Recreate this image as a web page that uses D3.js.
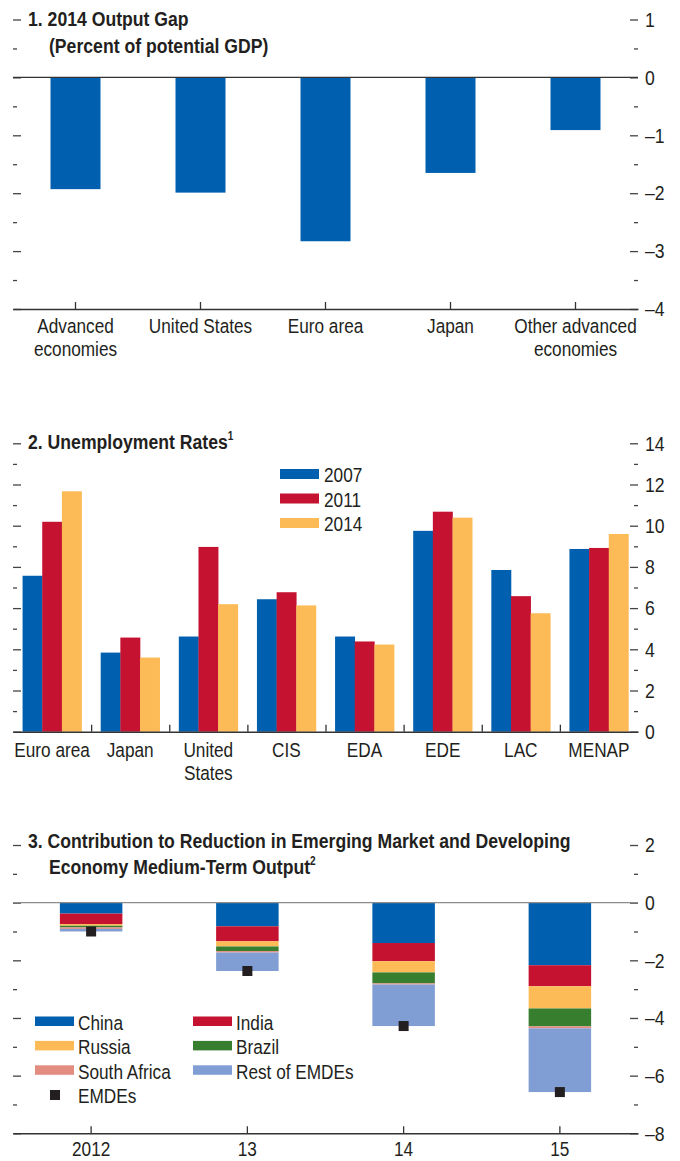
<!DOCTYPE html>
<html>
<head>
<meta charset="utf-8">
<script src="https://cdn.jsdelivr.net/npm/d3@7"></script>
<style>
  body { margin: 0; background: #fff; }
  text { font-family: "Liberation Sans", Arial, sans-serif; fill: #231f20; }
</style>
</head>
<body>
<svg id="chart" width="680" height="1161"></svg>
<script>
// panel 1 data
var gapCategories = ["Advanced\neconomies", "United States", "Euro area", "Japan", "Other advanced\neconomies"];
var gapValues = [-1.93, -1.99, -2.83, -1.65, -0.91];

// panel 2 data
var unempCategories = ["Euro area", "Japan", "United\nStates", "CIS", "EDA", "EDE", "LAC", "MENAP"];
var unempYears = ["2007", "2011", "2014"];
var unemp2007 = [7.57, 3.84, 4.62, 6.43, 4.62, 9.75, 7.85, 8.87];
var unemp2011 = [10.19, 4.57, 8.97, 6.77, 4.38, 10.68, 6.58, 8.92];
var unemp2014 = [11.67, 3.60, 6.19, 6.13, 4.23, 10.39, 5.75, 9.60];

// panel 3 data
var contribYears = ["2012", "13", "14", "15"];
var contribKeys = ["China", "India", "Russia", "Brazil", "South Africa", "Rest of EMDEs"];
var china = [-0.38, -0.82, -1.40, -2.17];
var india = [-0.36, -0.52, -0.63, -0.73];
var russia = [-0.06, -0.18, -0.39, -0.77];
var brazil = [-0.06, -0.16, -0.38, -0.62];
var southAfrica = [-0.05, -0.05, -0.04, -0.07];
var restOfEmdes = [-0.09, -0.64, -1.44, -2.21];
var emdes = [-1.00, -2.37, -4.28, -6.57];

var blue = "#0060af", red = "#c41230", yellow = "#fdbb57", green = "#377e2f",
    salmon = "#e38c80", lightBlue = "#809ed3", ink = "#231f20";

var svg = d3.select("#chart");
var left = 13, right = 638;
var squeeze = 0.84; // the original uses a condensed face

function fmt(d) { return d < 0 ? "\u2013" + Math.abs(d) : String(d); }

function condense(sel) {
    sel.each(function() {
        var t = d3.select(this);
        var x = +t.attr("x") || 0;
        t.attr("transform", "translate(" + x + ",0) scale(" + squeeze + ",1) translate(" + (-x) + ",0)");
    });
}

// ticks on both sides, labels on the right
function valueAxis(y, majors, minors) {
    var g = svg.append("g");
    g.append("g").attr("transform", "translate(" + right + ",0)")
        .call(d3.axisRight(y).tickValues(majors).tickSize(-8).tickPadding(7).tickFormat(fmt));
    g.append("g").attr("transform", "translate(" + right + ",0)")
        .call(d3.axisRight(y).tickValues(minors).tickSize(-4).tickFormat(""));
    g.append("g").attr("transform", "translate(" + left + ",0)")
        .call(d3.axisRight(y).tickValues(majors).tickSize(8).tickFormat(""));
    g.append("g").attr("transform", "translate(" + left + ",0)")
        .call(d3.axisRight(y).tickValues(minors).tickSize(4).tickFormat(""));
    g.selectAll(".domain").remove();
    g.selectAll(".tick line").attr("stroke", "#444").attr("stroke-width", 1.3);
    g.selectAll(".tick text").attr("font-size", 21).attr("font-family", null).attr("fill", ink).call(condense);
}

function categoryLabels(g, firstDy) {
    g.selectAll(".tick text").each(function(d) {
        var t = d3.select(this);
        var lines = d.split("\n");
        t.text(null).attr("y", 0).attr("dy", null).attr("font-size", 20.5).attr("fill", ink);
        lines.forEach(function(line, i) {
            t.append("tspan").attr("x", 0).attr("y", firstDy + i * 23).text(line);
        });
    });
    g.attr("font-family", null);
    g.selectAll(".tick text").call(condense);
}

function title(lines, y0, sup) {
    lines.forEach(function(line, i) {
        var t = svg.append("text").attr("font-size", 21).attr("font-weight", "bold")
            .attr("x", i === 0 ? 28 : 49).attr("y", y0 + i * 26.5).text(line);
        if (sup && i === lines.length - 1) {
            t.append("tspan").attr("font-size", 12).attr("dy", -9).text(sup);
        }
        condense(t);
    });
}

// ---------- panel 1 ----------
var y1 = d3.scaleLinear().domain([-4, 1]).range([309, 19.5]);
var x1 = d3.scaleBand().domain(gapCategories).range([left, right]).paddingInner(0.6).paddingOuter(0.3);

valueAxis(y1, [1, 0, -1, -2, -3, -4], [0.5, -0.5, -1.5, -2.5, -3.5]);

svg.append("g").selectAll("rect")
    .data(gapValues)
    .enter()
    .append("rect")
    .attr("x", function(d, i) { return x1(gapCategories[i]); })
    .attr("y", function(d) { return y1(0); })
    .attr("width", x1.bandwidth())
    .attr("height", function(d) { return y1(d) - y1(0); })
    .attr("fill", blue);

svg.append("line").attr("x1", left).attr("x2", right)
    .attr("y1", y1(0)).attr("y2", y1(0)).attr("stroke", "#333").attr("stroke-width", 1.3);

var ax1 = svg.append("g").attr("transform", "translate(0," + y1(-4) + ")")
    .call(d3.axisBottom(x1).tickSize(-7).tickSizeOuter(0));
ax1.select(".domain").attr("stroke", "#333").attr("stroke-width", 1.5);
ax1.selectAll(".tick line").attr("stroke", "#333").attr("stroke-width", 1.3);
categoryLabels(ax1, 24);

title(["1. 2014 Output Gap", "(Percent of potential GDP)"], 26.5);

// ---------- panel 2 ----------
var y2 = d3.scaleLinear().domain([0, 14]).range([731.7, 443.3]);
var x2 = d3.scaleBand().domain(unempCategories).range([left, right]).paddingInner(0.245).paddingOuter(0.1225);
var xYear = d3.scaleBand().domain(unempYears).range([0, x2.bandwidth()]);
var unempSeries = [unemp2007, unemp2011, unemp2014];
var yearColor = d3.scaleOrdinal().domain(unempYears).range([blue, red, yellow]);

valueAxis(y2, [14, 12, 10, 8, 6, 4, 2, 0], [13, 11, 9, 7, 5, 3, 1]);

unempYears.forEach(function(yr, k) {
    svg.append("g").selectAll("rect")
        .data(unempSeries[k])
        .enter()
        .append("rect")
        .attr("x", function(d, i) { return x2(unempCategories[i]) + xYear(yr); })
        .attr("y", function(d) { return y2(d); })
        .attr("width", xYear.bandwidth() + 0.3)
        .attr("height", function(d) { return y2(0) - y2(d); })
        .attr("fill", yearColor(yr));
});

// separators between groups
var sep = d3.scaleLinear().domain([0, unempCategories.length]).range([left, right]);
var ax2 = svg.append("g").attr("transform", "translate(0," + y2(0) + ")")
    .call(d3.axisBottom(sep).tickValues(d3.range(1, unempCategories.length)).tickSize(-7).tickSizeOuter(0).tickFormat(""));
ax2.select(".domain").attr("stroke", "#333").attr("stroke-width", 1.5);
ax2.selectAll(".tick line").attr("stroke", "#333").attr("stroke-width", 1.3);
var ax2l = svg.append("g").attr("transform", "translate(0," + y2(0) + ")")
    .call(d3.axisBottom(x2).tickSize(0));
ax2l.select(".domain").remove();
categoryLabels(ax2l, 25);

title(["2. Unemployment Rates"], 449, "1");

var leg2 = svg.append("g");
unempYears.forEach(function(yr, k) {
    leg2.append("rect").attr("x", 280).attr("y", 469 + k * 24.5).attr("width", 39).attr("height", 10).attr("fill", yearColor(yr));
    leg2.append("text").attr("x", 324).attr("y", 482.5 + k * 24.5).attr("font-size", 20.5).text(yr).call(condense);
});

// ---------- panel 3 ----------
var y3 = d3.scaleLinear().domain([-8, 2]).range([1133.3, 845]);
var x3 = d3.scaleBand().domain(contribYears).range([left, right]).paddingInner(0.6).paddingOuter(0.3);
var contribColor = d3.scaleOrdinal().domain(contribKeys).range([blue, red, yellow, green, salmon, lightBlue]);
var contribSeries = [china, india, russia, brazil, southAfrica, restOfEmdes];

var rows = contribYears.map(function(yr, i) {
    var row = { year: yr };
    contribKeys.forEach(function(k, j) { row[k] = contribSeries[j][i]; });
    return row;
});
var stacked = d3.stack().keys(contribKeys).offset(d3.stackOffsetDiverging)(rows);

valueAxis(y3, [2, 0, -2, -4, -6, -8], [1, -1, -3, -5, -7]);

svg.append("g").selectAll("g")
    .data(stacked)
    .enter()
    .append("g")
    .attr("fill", function(s) { return contribColor(s.key); })
    .selectAll("rect")
    .data(function(s) { return s; })
    .enter()
    .append("rect")
    .attr("x", function(d) { return x3(d.data.year); })
    .attr("y", function(d) { return y3(d[1]); })
    .attr("width", x3.bandwidth())
    .attr("height", function(d) { return y3(d[0]) - y3(d[1]); });

svg.append("line").attr("x1", left).attr("x2", right)
    .attr("y1", y3(0)).attr("y2", y3(0)).attr("stroke", "#8c8c8c").attr("stroke-width", 1.3);

svg.append("g").selectAll("rect")
    .data(emdes)
    .enter()
    .append("rect")
    .attr("x", function(d, i) { return x3(contribYears[i]) + x3.bandwidth() / 2 - 5; })
    .attr("y", function(d) { return y3(d) - 5; })
    .attr("width", 10)
    .attr("height", 10)
    .attr("fill", ink);

var ax3 = svg.append("g").attr("transform", "translate(0," + y3(-8) + ")")
    .call(d3.axisBottom(x3).tickSize(-7).tickSizeOuter(0));
ax3.select(".domain").attr("stroke", "#333").attr("stroke-width", 1.5);
ax3.selectAll(".tick line").attr("stroke", "#333").attr("stroke-width", 1.3);
categoryLabels(ax3, 23);

title(["3. Contribution to Reduction in Emerging Market and Developing", "Economy Medium-Term Output"], 848, "2");

var leg3 = svg.append("g");
contribKeys.forEach(function(k, j) {
    var cx = j % 2 === 0 ? 35 : 193;
    var cy = 1016.5 + Math.floor(j / 2) * 24.4;
    leg3.append("rect").attr("x", cx).attr("y", cy).attr("width", 39).attr("height", 9.5).attr("fill", contribColor(k));
    leg3.append("text").attr("x", cx + 43).attr("y", cy + 13.5).attr("font-size", 20.5).text(k).call(condense);
});
leg3.append("rect").attr("x", 50).attr("y", 1090).attr("width", 10).attr("height", 10).attr("fill", ink);
leg3.append("text").attr("x", 78).attr("y", 1103.5).attr("font-size", 20.5).text("EMDEs").call(condense);
</script>
</body>
</html>
